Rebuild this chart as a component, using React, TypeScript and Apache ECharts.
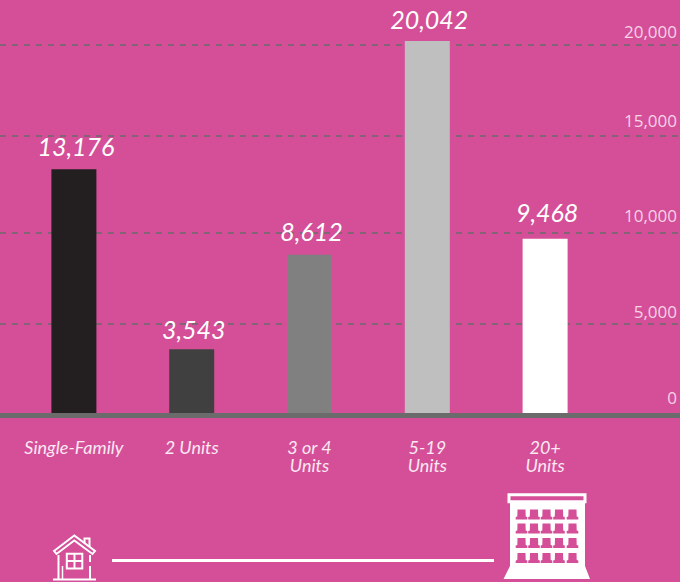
import React, { useEffect, useRef } from "react";
import * as echarts from "echarts";

const categories = ["Single-Family", "2 Units", "3 or 4\nUnits", "5-19\nUnits", "20+\nUnits"];
const values = [13176, 3543, 8612, 20042, 9468];
const barColors = ["#231f20", "#404040", "#808080", "#bfbfbf", "#ffffff"];
const labelDistances = [11, 8, 11, 10, 14];
const tickLabels = ["0", "5,000", "10,000", "15,000", "20,000"];
// Where the picture places tick labels and dashed lines, in axis units (unevenly spaced in the reference)
const tickLabelPositions = [990, 5594, 10680, 15766, 20530];
const gridLinePositions = [4898, 9770, 14963, 19834];
const windowColumns = [521.5, 534, 546.5, 559, 572.5];
const windowRows = [509.5, 523.5, 538, 553];

const BG = "#d44f98";
const W = 680;

function buildIcons(): any[] {
  const white = "#ffffff";
  const line = (shape: any, lineWidth = 2) => ({ type: "line", shape, style: { stroke: white, lineWidth } });
  const elements: any[] = [
    line({ x1: 112, y1: 560.5, x2: 494, y2: 560.5 }, 3),
    // house
    { type: "polygon", shape: { points: [[54, 551], [74.3, 535.5], [95, 551], [92.5, 554], [74.3, 540.5], [56.5, 554]] }, style: { fill: BG, stroke: white, lineWidth: 2 } },
    { type: "polyline", shape: { points: [[84.5, 543], [84.5, 538.5], [89.5, 538.5], [89.5, 547]] }, style: { fill: "none", stroke: white, lineWidth: 2 } },
    line({ x1: 58.5, y1: 555, x2: 58.5, y2: 579 }),
    line({ x1: 90, y1: 555, x2: 90, y2: 562 }),
    line({ x1: 90, y1: 566, x2: 90, y2: 579 }),
    line({ x1: 53, y1: 579.5, x2: 96, y2: 579.5 }),
    line({ x1: 62.5, y1: 566, x2: 62.5, y2: 579 }, 1.5),
    { type: "rect", shape: { x: 66.8, y: 553.8, width: 15.5, height: 14.8 }, style: { fill: "none", stroke: white, lineWidth: 2 } },
    line({ x1: 74.5, y1: 554, x2: 74.5, y2: 568 }),
    line({ x1: 67, y1: 561, x2: 82, y2: 561 }),
    // building
    { type: "polygon", shape: { points: [[510, 503], [585, 503], [585, 566], [590, 579], [503.5, 579], [510, 566]] }, style: { fill: white } },
    { type: "rect", shape: { x: 509, y: 494.7, width: 76, height: 7 }, style: { fill: BG, stroke: white, lineWidth: 3 } },
  ];
  for (const cx of windowColumns) {
    for (const y of windowRows) {
      elements.push({
        type: "polygon",
        shape: {
          points: [
            [cx - 4, y], [cx + 4, y], [cx + 4.2, y + 7], [cx + 5.8, y + 7.5], [cx + 5.8, y + 10],
            [cx - 5.8, y + 10], [cx - 5.8, y + 7.5], [cx - 4.2, y + 7],
          ],
        },
        style: { fill: BG },
      });
    }
  }
  return elements;
}

export default function App() {
  const ref = useRef<HTMLDivElement>(null);
  useEffect(() => {
    const chart = echarts.init(ref.current!, null, { renderer: "svg" });
    chart.setOption({
      animation: false,
      backgroundColor: BG,
      grid: { left: 15, width: 590, top: 0, height: 415.5 },
      xAxis: {
        type: "category",
        data: categories,
        axisLine: { show: false },
        axisTick: { show: false },
        axisLabel: {
          margin: 22,
          interval: 0,
          color: "#fbe9f3",
          fontFamily: "Lato",
          fontStyle: "italic",
          fontSize: 18,
          lineHeight: 18,
          verticalAlign: "top",
        },
      },
      yAxis: {
        type: "value",
        position: "right",
        min: 0,
        max: 22243,
        axisLine: { show: false },
        axisTick: { show: false },
        splitLine: { show: false },
        axisLabel: {
          customValues: tickLabelPositions,
          formatter: (v: number) => tickLabels[tickLabelPositions.indexOf(v)],
          margin: 73,
          align: "right",
          color: "#f6d3e6",
          fontFamily: "Open Sans",
          fontSize: 17,
        },
      },
      series: [
        {
          type: "line",
          data: [],
          silent: true,
          markLine: {
            z: 1,
            silent: true,
            symbol: "none",
            label: { show: false },
            lineStyle: { color: "#6b6b6b", type: [6, 6], width: 1.5 },
            data: gridLinePositions.map((v) => [
              { x: 0, yAxis: v },
              { x: W, yAxis: v },
            ]),
          },
        },
        {
          type: "bar",
          z: 3,
          barWidth: 45,
          data: values.map((value, i) => ({
            value,
            itemStyle: { color: barColors[i] },
            label: { distance: labelDistances[i] },
          })),
          label: {
            show: true,
            position: "top",
            offset: [2, 0],
            color: "#ffffff",
            fontFamily: "Lato",
            fontStyle: "italic",
            fontSize: 25,
            formatter: (p: any) => p.value.toLocaleString("en-US"),
          },
          markLine: {
            z: 6,
            silent: true,
            symbol: "none",
            label: { show: false },
            lineStyle: { color: "#6b6b6b", type: "solid", width: 5 },
            data: [[{ x: 0, yAxis: 0 }, { x: W, yAxis: 0 }]],
          },
        },
      ],
      graphic: { elements: buildIcons() },
    });
    return () => chart.dispose();
  }, []);
  return <div ref={ref} style={{ position: "fixed", left: 0, top: 0, width: 680, height: 582 }} />;
}
